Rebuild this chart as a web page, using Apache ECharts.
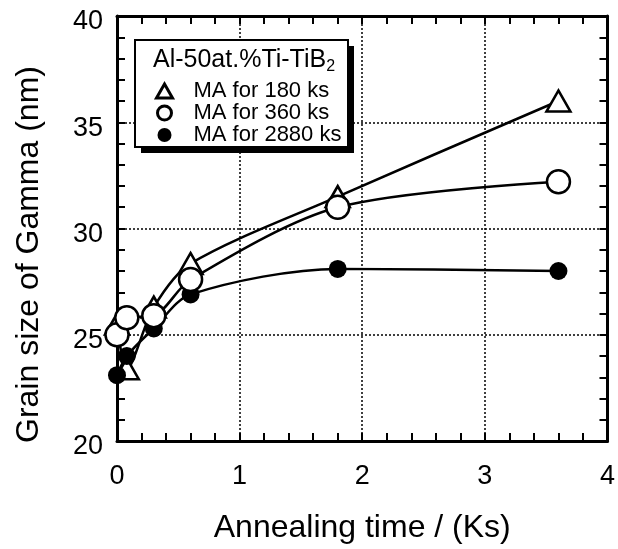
<!DOCTYPE html>
<html>
<head>
<meta charset="utf-8">
<title>Grain size of Gamma</title>
<script src="https://cdn.jsdelivr.net/npm/echarts@6/dist/echarts.min.js"></script>
<style>
  html, body { margin: 0; padding: 0; background: #fff; }
  #chart { width: 618px; height: 549px; }
</style>
</head>
<body>
<div id="chart"></div>
<script>
// annealing time (Ks) and grain size (nm)
const annealTimes = [0, 0.08, 0.3, 0.6, 1.8, 3.6];
const ma180 = [25.5, 23.4, 26.3, 28.35, 31.5, 36.0];
const ma360 = [25.0, 25.8, 25.9, 27.6, 31.0, 32.2];
const ma2880 = [23.1, 24.0, 25.3, 26.9, 28.1, 28.0];
const seriesNames = ['MA for 180 ks', 'MA for 360 ks', 'MA for 2880 ks'];

const font = '"Liberation Sans", Arial, Helvetica, sans-serif';

function pairs(ys) {
  return annealTimes.map((t, i) => [t, ys[i]]);
}

const chart = echarts.init(document.getElementById('chart'));

const axisLine = { show: true, onZero: false, lineStyle: { color: '#000', width: 3 } };
const axisTick = { show: true, inside: true, length: 8, lineStyle: { color: '#000', width: 2 } };
const minorTick = { show: true, splitNumber: 5, length: 8, lineStyle: { color: '#000', width: 2 } };
const dotted = { show: true, lineStyle: { color: '#000', width: 1.5, type: [2, 2] } };

const option = {
  animation: false,
  textStyle: { fontFamily: font, color: '#000' },
  grid: { left: 117, right: 9, top: 16, bottom: 106 },
  xAxis: [
    {
      type: 'value', min: 0, max: 4, interval: 1, position: 'bottom',
      axisLine, axisTick, minorTick, splitLine: dotted,
      axisLabel: { fontSize: 27, color: '#000', margin: 22, fontFamily: font },
      name: 'Annealing time / (Ks)', nameLocation: 'middle', nameGap: 71,
      nameTextStyle: { fontSize: 32, color: '#000', fontFamily: font }
    },
    {
      type: 'value', min: 0, max: 4, interval: 1, position: 'top',
      axisLine, axisTick, minorTick, splitLine: { show: false },
      axisLabel: { show: false }
    }
  ],
  yAxis: [
    {
      type: 'value', min: 20, max: 40, interval: 5, position: 'left',
      axisLine, axisTick, minorTick, splitLine: dotted,
      axisLabel: {
        color: '#000', margin: 14,
        formatter: v => '{v|' + v + '}',
        rich: { v: { fontSize: 27, fontFamily: font, color: '#000', padding: [12, 0, 0, 0] } }
      },
      name: 'Grain size of Gamma (nm)', nameLocation: 'middle', nameGap: 72,
      nameTextStyle: { fontSize: 32, color: '#000', fontFamily: font, padding: [0, 52, 0, 0] }
    },
    {
      type: 'value', min: 20, max: 40, interval: 5, position: 'right',
      axisLine, axisTick, minorTick, splitLine: { show: false },
      axisLabel: { show: false }
    }
  ],
  legend: {
    orient: 'vertical',
    left: 155, top: 80,
    padding: 0,
    itemGap: 0,
    itemWidth: 16, itemHeight: 14,
    z: 12,
    textStyle: { fontSize: 22, lineHeight: 20.5, color: '#000', fontFamily: font, padding: [0, 0, 0, 16] },
    data: [
      { name: seriesNames[0], icon: 'triangle', itemStyle: { borderWidth: 3 } },
      { name: seriesNames[1], icon: 'circle', itemStyle: { borderWidth: 3 } },
      { name: seriesNames[2], icon: 'circle' }
    ]
  },
  graphic: [
    { type: 'rect', z: 10, shape: { x: 141, y: 46, width: 213, height: 107 }, style: { fill: '#000' } },
    { type: 'rect', z: 11, shape: { x: 135, y: 40, width: 213, height: 107 },
      style: { fill: '#fff', stroke: '#000', lineWidth: 2 } },
    {
      type: 'text', z: 13, left: 153, top: 48,
      style: {
        text: '{m|Al-50at.%Ti-TiB}{s|2}',
        rich: {
          m: { fontSize: 25, lineHeight: 28, fontFamily: font, fill: '#000' },
          s: { fontSize: 16, lineHeight: 12, verticalAlign: 'bottom', fontFamily: font, fill: '#000' }
        }
      }
    }
  ],
  series: [
    {
      name: seriesNames[0], type: 'line', smooth: 0.3,
      data: pairs(ma180),
      symbol: 'triangle', symbolSize: [24, 21],
      itemStyle: { color: '#fff', borderColor: '#000', borderWidth: 2.5 },
      lineStyle: { color: '#000', width: 2.5 }
    },
    {
      name: seriesNames[2], type: 'line', smooth: 0.3,
      data: pairs(ma2880),
      symbol: 'circle', symbolSize: 18,
      itemStyle: { color: '#000', borderColor: '#000', borderWidth: 0 },
      lineStyle: { color: '#000', width: 2.5 }
    },
    {
      name: seriesNames[1], type: 'line', smooth: 0.3,
      data: pairs(ma360),
      symbol: 'circle', symbolSize: 23,
      itemStyle: { color: '#fff', borderColor: '#000', borderWidth: 2.5 },
      lineStyle: { color: '#000', width: 2.5 }
    }
  ]
};

chart.setOption(option);
</script>
</body>
</html>
